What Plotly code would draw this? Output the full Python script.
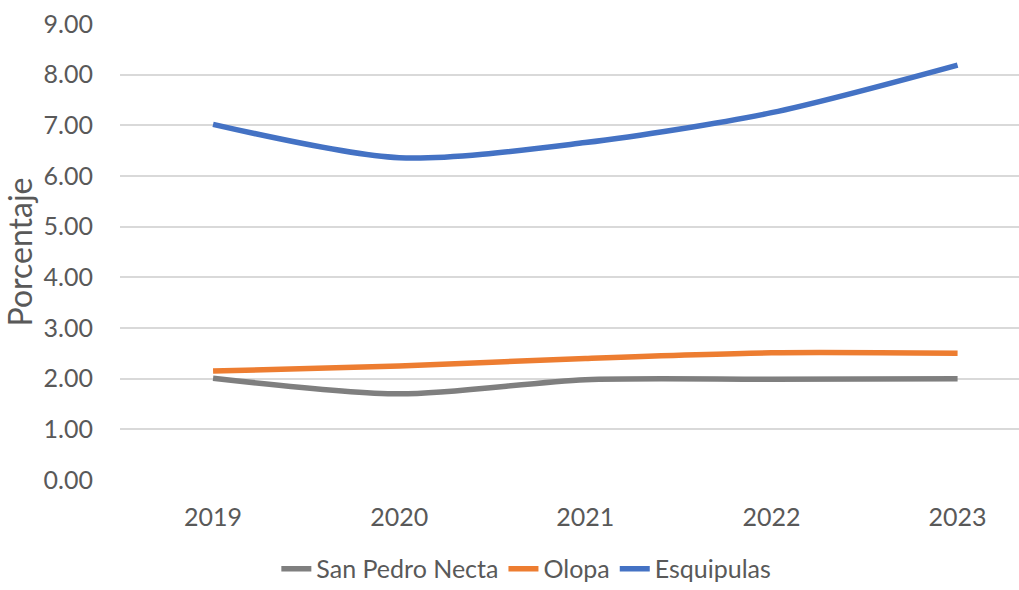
import plotly.graph_objects as go

years = ["2019", "2020", "2021", "2022", "2023"]
san_pedro_necta = [2.01, 1.70, 1.98, 1.99, 2.00]
olopa = [2.15, 2.25, 2.40, 2.51, 2.50]
esquipulas = [7.02, 6.36, 6.66, 7.25, 8.19]
y_ticks = [0, 1, 2, 3, 4, 5, 6, 7, 8, 9]
y_ticklabels = [f"{v:.2f}" for v in y_ticks]

series = [
    ("San Pedro Necta", san_pedro_necta, "#7F7F7F"),
    ("Olopa", olopa, "#ED7D31"),
    ("Esquipulas", esquipulas, "#4472C4"),
]

fig = go.Figure()
for name, vals, color in series:
    fig.add_trace(go.Scatter(
        x=years, y=vals, name=name, mode="lines",
        line=dict(color=color, width=5.5, shape="spline", smoothing=0.8),
    ))

font_family = "Lato, 'Open Sans', sans-serif"
txt = "#595959"
fig.update_layout(
    width=1019, height=590,
    margin=dict(l=120, r=0, t=24, b=110, autoexpand=False),
    paper_bgcolor="white", plot_bgcolor="white",
    font=dict(family=font_family, size=25, color=txt),
    showlegend=True,
    legend=dict(orientation="h", x=0.452, xanchor="center", y=-0.195, yanchor="middle",
                font=dict(size=25, color=txt), tracegroupgap=0,
                bgcolor="rgba(0,0,0,0)"),
    xaxis=dict(type="category", range=[-0.5, 4.33], showgrid=False, zeroline=False,
               showline=False, ticks="", ticklabelstandoff=20, automargin=False,
               tickfont=dict(size=25, color=txt)),
    yaxis=dict(range=[0, 9], tickvals=y_ticks, ticktext=y_ticklabels,
               showgrid=True, gridcolor="#D9D9D9", gridwidth=2, zeroline=False,
               showline=False, ticks="", ticklabelstandoff=26, automargin=False,
               tickfont=dict(size=25, color=txt),
               title=dict(text="Porcentaje", standoff=10,
                          font=dict(size=32, color=txt))),
)

fig.write_html("out.html", config={"displayModeBar": False},
               post_script="document.body.style.margin='0';")
